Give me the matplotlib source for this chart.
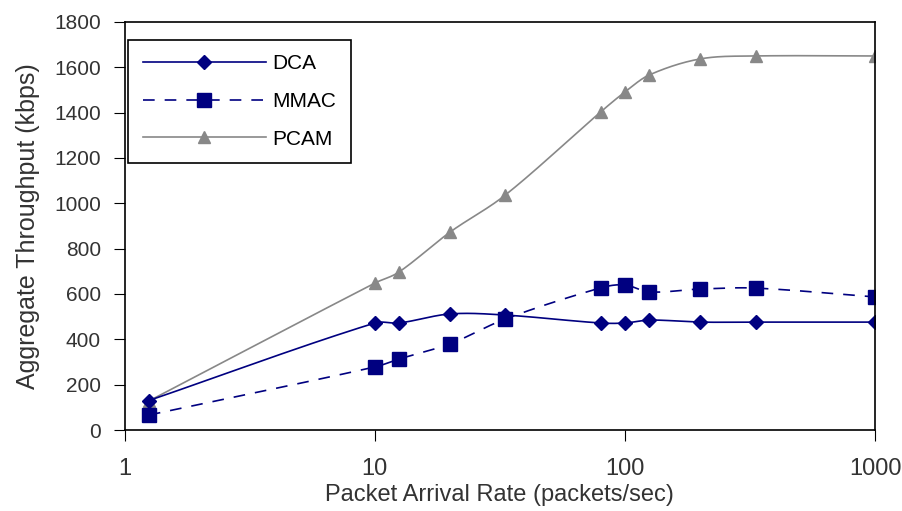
import numpy as np
import matplotlib
matplotlib.use("Agg")
import matplotlib.pyplot as plt
from matplotlib.lines import Line2D

plt.rcParams['font.family'] = ['Liberation Sans', 'DejaVu Sans']

# packets/sec
rate = [1.25, 10, 12.5, 20, 33.3, 80, 100, 125, 200, 333, 1000]
dca = [130, 472, 472, 512, 507, 472, 472, 485, 476, 476, 476]
mmac = [66, 278, 313, 380, 490, 627, 640, 609, 622, 626, 587]
pcam = [128, 648, 697, 873, 1037, 1403, 1491, 1566, 1637, 1650, 1650]


def smooth(xs, ys, n=30):
    # smoothed line (hermite, finite-difference slopes) in log-x space
    u = np.log10(xs)
    y = np.asarray(ys, float)
    m = np.zeros_like(y)
    m[0] = (y[1] - y[0]) / (u[1] - u[0])
    m[-1] = (y[-1] - y[-2]) / (u[-1] - u[-2])
    m[1:-1] = (y[2:] - y[:-2]) / (u[2:] - u[:-2])
    ox, oy = [u[0]], [y[0]]
    for i in range(len(u) - 1):
        h = u[i + 1] - u[i]
        t = np.linspace(0, 1, n)[1:]
        h00 = 2 * t ** 3 - 3 * t ** 2 + 1
        h10 = t ** 3 - 2 * t ** 2 + t
        h01 = -2 * t ** 3 + 3 * t ** 2
        h11 = t ** 3 - t ** 2
        ox.extend(u[i] + t * h)
        oy.extend(h00 * y[i] + h10 * h * m[i] + h01 * y[i + 1] + h11 * h * m[i + 1])
    return 10 ** np.array(ox), np.array(oy)


fig = plt.figure(figsize=(9.03, 5.11), dpi=100)
ax = fig.add_axes([0.138, 0.1585, 0.831, 0.7985])

navy = '#000080'
grey = '#888888'
dash = (7, 6)

sx, sy = smooth(rate, pcam)
ax.plot(sx, sy, color=grey, lw=1.2)
ax.plot(rate, pcam, ls='none', marker='^', ms=9, color=grey)

sx, sy = smooth(rate, dca)
ax.plot(sx, sy, color=navy, lw=1.2)
ax.plot(rate, dca, ls='none', marker='D', ms=7, color=navy)

sx, sy = smooth(rate, mmac)
ax.plot(sx, sy, color=navy, lw=1.2, dashes=dash)
ax.plot(rate, mmac, ls='none', marker='s', ms=9.5, color=navy)

ax.set_xscale('log')
ax.set_xlim(1, 1000)
ax.set_ylim(0, 1800)
ax.set_yticks(range(0, 1801, 200))
ax.set_xticks([1, 10, 100, 1000])
ax.set_xticklabels(['1', '10', '100', '1000'])
ax.xaxis.set_minor_locator(matplotlib.ticker.NullLocator())
ax.tick_params(length=8, color='black', labelcolor='#333333')
ax.tick_params(axis='y', labelsize=15, pad=9)
ax.tick_params(axis='x', labelsize=17, pad=12)
for s in ax.spines.values():
    s.set_linewidth(1.2)

ax.set_xlabel('Packet Arrival Rate (packets/sec)', fontsize=17, color='#333333', labelpad=3)
ax.set_ylabel('Aggregate Throughput (kbps)', fontsize=18, color='#333333', labelpad=10)

handles = [
    Line2D([], [], color=navy, lw=1.2, marker='D', ms=7),
    Line2D([], [], color=navy, lw=1.2, dashes=dash, marker='s', ms=9.5),
    Line2D([], [], color=grey, lw=1.2, marker='^', ms=9),
]
leg = ax.legend(handles, ['DCA', 'MMAC', 'PCAM'], loc='upper left',
                bbox_to_anchor=(0.005, 0.957), fontsize=15, handlelength=5.9,
                fancybox=False, edgecolor='black', framealpha=1,
                borderpad=0.7, labelspacing=0.9, handletextpad=0.3,
                borderaxespad=0)
leg.get_frame().set_linewidth(1.2)

fig.savefig('out.png', dpi=100)
